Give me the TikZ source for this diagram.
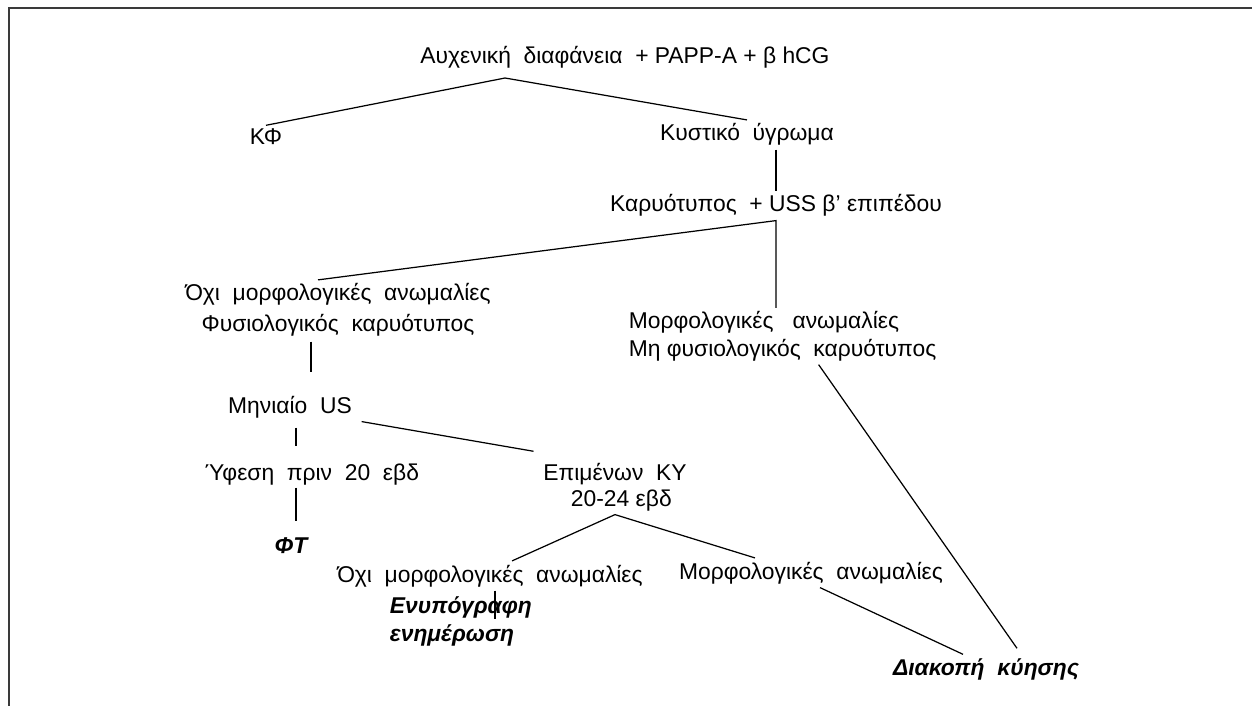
\documentclass[tikz,border=0pt]{standalone}
\usepackage{fontspec}
\setmainfont{Liberation Sans}
\usepackage{tikz}
\usetikzlibrary{calc}
\definecolor{frGray}{HTML}{3A3A3A}

\begin{document}
\begin{tikzpicture}[x=0.02cm,y=-0.02cm,
        lbl/.style={inner sep=2pt,font=\fontsize{13}{14.6}\selectfont},
        res/.style={lbl,font=\fontsize{13}{14.6}\selectfont\bfseries\itshape},
        link/.style={black,line width=0.7pt}]
        \useasboundingbox (0,0) rectangle (1252,706);

        % Frame (top and left edge only)
        \draw[frGray,line width=1.2pt] (9,706) -- (9,8) -- (1252,8);

        % Screening level
        \node[lbl,anchor=base] (screen) at (625,64) {Αυχενική\ \ διαφάνεια\ \ + PAPP-A + β hCG};
        \node[lbl,anchor=base] (kf) at (266,145) {ΚΦ};
        \node[lbl,anchor=base] (cyst) at (747,141) {Κυστικό\ \ ύγρωμα};
        \coordinate (j1) at (505,78);

        % Second level (base = last line)
        \node[lbl,anchor=base] (karyo) at (776,212) {Καρυότυπος\ \ + USS β’ επιπέδου};
        \node[lbl,anchor=base,align=center] (noA) at (338,331)
            {Όχι\ \ μορφολογικές\ \ ανωμαλίες\\[2.5pt]Φυσιολογικός\ \ καρυότυπος};
        \node[lbl,anchor=base west,align=left] (morph) at (625,356)
            {Μορφολογικές\ \ \ ανωμαλίες\\[0.8pt]Μη φυσιολογικός\ \ καρυότυπος};

        % Follow-up
        \node[lbl,anchor=base] (us) at (290,413) {Μηνιαίο\ \ US};
        \node[lbl,anchor=base] (regr) at (312,480) {Ύφεση\ \ πριν\ \ 20\ \ εβδ};
        \node[res,anchor=base] (ft) at (291,553) {ΦΤ};
        \node[lbl,anchor=base,align=center] (persist) at (615,506)
            {Επιμένων\ \ ΚΥ\\\ \ 20-24 εβδ};
        \node[lbl,anchor=base] (noB) at (490,582) {Όχι\ \ μορφολογικές\ \ ανωμαλίες};
        \node[lbl,anchor=base] (morphB) at (811,579) {Μορφολογικές\ \ ανωμαλίες};
        \node[res,anchor=base west,align=left] (inform) at (386,641)
            {Ενυπόγραφη\\[1.3pt]ενημέρωση};
        \node[res,anchor=base] (stop) at (986,675) {Διακοπή\ \ κύησης};

        % Connectors
        \draw[link] (kf.north) -- (j1) -- (cyst.north);
        \draw[link] (cyst.south -| karyo.north) -- (karyo.north);
        \draw[link] ($(noA.north)+(-20,0)$) -- (karyo.south) -- (karyo.south |- morph.north);
        \draw[link] ($(noA.south)+(-27,2)$) -- ($(noA.south)+(-27,32)$);
        \draw[link] ($(us.south)+(6,6)$) -- ($(us.south)+(6,24)$);
        \draw[link] ($(us.south)+(6,66)$) -- ($(ft.north)+(5,-12)$);
        \draw[link] ($(us.south east)+(6,0)$) -- ($(persist.north west)+(-6,-8)$);
        \draw[link] ($(noB.north)+(22,0)$) -- (persist.south) -- ($(morphB.north)+(-56,0)$);
        \draw[link] ($(noB.south)+(5,0)$) -- ($(noB.south)+(5,28)$);
        \draw[link] ($(morphB.south)+(9,0)$) -- ($(stop.north)+(-23,0)$);
        \draw[link] ($(morph.south)+(36,0)$) -- ($(stop.north)+(31,-6)$);
    \end{tikzpicture}
\end{document}
